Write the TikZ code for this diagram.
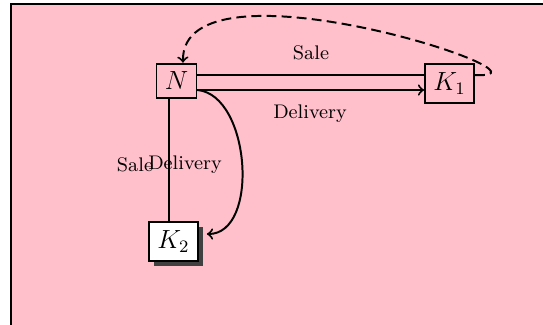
\documentclass[tikz,border=0pt]{standalone}
\usetikzlibrary{shadows}
\definecolor{bgpink}{HTML}{FFC0CB}
\begin{document}
\begin{tikzpicture}[x=0.4566pt,y=-0.4566pt,
  box/.style={draw,line width=0.9pt,inner sep=3.8pt,font=\large},
  lbl/.style={font=\small,inner sep=0pt},
  conn/.style={line width=0.9pt},
  dconn/.style={line width=0.9pt,dash pattern=on 4.5pt off 2.4pt}]
\useasboundingbox (0,0) rectangle (543,324);
\clip (0,0) rectangle (543,324);
\fill[white] (0,0) rectangle (543,324);
\draw[line width=0.9pt,fill=bgpink] (11,4) rectangle (600,400);
\node[box] (N) at (176.5,81) {$N$};
\node[box] (K1) at (449.5,83.5) {$K_1$};
\node[box,fill=white,drop shadow={opacity=1,fill=black!75,shadow xshift=2.3pt,shadow yshift=-2.3pt}] (K2) at (173.5,241.5) {$K_2$};
\draw[conn] (N.east |- 0,75) -- (K1.west |- 0,75);
\draw[conn,->] (N.east |- 0,90) -- (K1.west |- 0,90);
\node[lbl] (s1) at (311,53) {Sale};
\node[lbl] (d1) at (310,114) {Delivery};
\draw[conn] (N.south -| 169,0) -- (K2.north -| 169,0);
\node[lbl] (s2) at (135,165) {Sale};
\node[lbl] (d2) at (185,165) {Delivery};
\draw[conn,->] (N.east |- 0,90) .. controls +(53,5) and +(53,0) .. ([shift={(8,-7.5)}]K2.east);
\draw[dconn,->] (K1.east |- 0,75) .. controls +(100,5) and +(-3,-113) .. (N.north -| 183,0);
\end{tikzpicture}
\end{document}
